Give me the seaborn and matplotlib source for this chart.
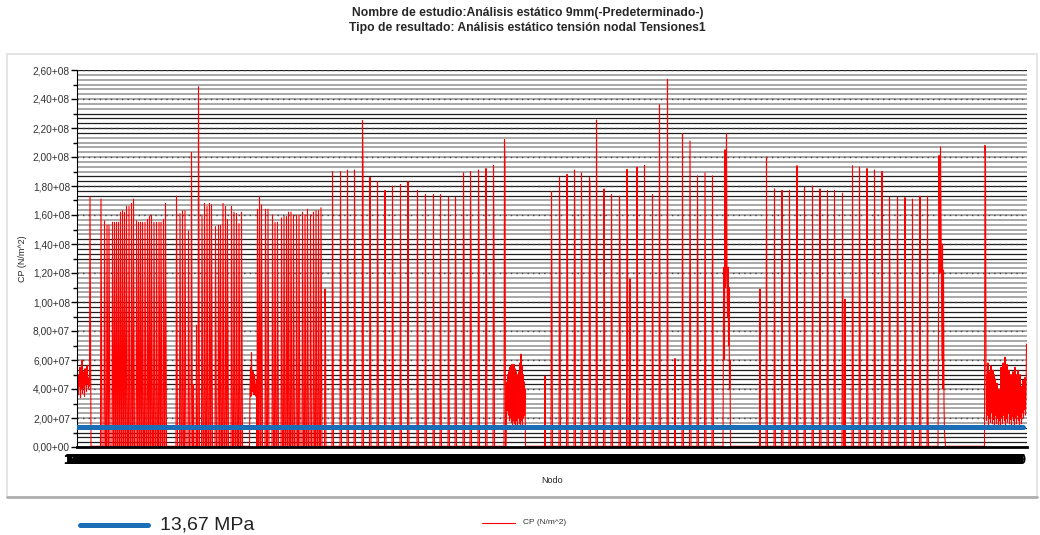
import numpy as np
import pandas as pd
import matplotlib
matplotlib.use("Agg")
import matplotlib.pyplot as plt
import seaborn as sns
from matplotlib.lines import Line2D
from matplotlib.patches import Rectangle
from matplotlib.ticker import FuncFormatter, MultipleLocator

# ---- data (stress in MPa, node index) ----
n_nodes = 1900
base_level = 0.5
limit_mpa = 13.67

spike_node = [26, 48, 55, 60, 64, 71, 75, 79, 83, 87, 91, 95, 99, 104, 109, 113, 119, 123, 127, 131,
              136, 141, 145, 149, 154, 159, 164, 168, 173, 177,
              199, 206, 211, 216, 223, 229, 233, 239, 243, 250, 255, 260, 265, 269, 277, 283, 287, 292,
              297, 301, 309, 314, 319, 324, 329,
              361, 365, 369, 377, 382, 391, 396, 401, 409, 414, 419, 423, 428, 433, 439, 444, 451, 456,
              461, 467, 473, 478, 483, 488,
              496, 511, 527, 541, 555, 571, 586, 601, 616, 631, 647, 662, 681, 697, 713, 727, 743, 757,
              773, 787, 803, 818, 833, 855,
              936, 949, 965, 980, 995, 1009, 1025, 1039, 1054, 1069, 1085, 1100, 1106, 1120, 1135, 1151,
              1165, 1181, 1196, 1211, 1226, 1241, 1256, 1271,
              1366, 1379, 1395, 1410, 1425, 1440, 1455, 1471, 1486, 1501, 1515, 1531, 1536, 1551, 1565,
              1580, 1595, 1610, 1625, 1641, 1656, 1671, 1686, 1701, 1816]
spike_peak = [172.6, 171, 156, 153, 153, 155, 155, 155, 155, 162, 163, 162, 166, 166, 168, 171, 156, 155, 155, 155,
              155, 157, 159, 160, 155, 155, 155, 155, 157, 168,
              173, 161, 163, 163, 149, 203, 43, 84, 248.5, 160, 168, 166, 168, 167, 152, 153, 153, 168,
              166, 157, 166, 162, 161, 154, 162,
              164, 172.6, 167, 164, 164, 160, 155, 155, 158, 159, 159, 162, 162, 160, 160, 160, 162, 160,
              164, 160, 162, 163, 163, 165,
              109, 190, 190, 191, 191, 225, 186, 183, 177, 180, 181, 183, 177, 174, 174, 174, 172, 172,
              189, 190, 191, 192, 194, 212,
              49, 176, 186, 188, 191, 189, 186, 225.5, 178, 174, 173, 191.5, 116, 193, 194, 174,
              236, 253.6, 61, 216, 211, 187, 189, 187,
              109, 200, 178, 177, 177, 194, 179, 180, 178, 177, 177, 175, 102, 194, 193,
              192, 191, 190, 172, 172, 172, 171, 173, 173, 208]
spike_second = [86, 80, 80, 78, 78, 80, 80, 79, 79, 82, 82, 82, 80, 80, 80, 80, 80, 80, 80, 80,
                80, 80, 82, 82, 80, 80, 80, 80, 80, 80,
                82, 82, 82, 82, 80, 80, 0, 0, 124, 82, 82, 82, 82, 82, 80, 80, 80, 80,
                80, 80, 80, 80, 80, 80, 80,
                82, 82, 82, 82, 82, 80, 78, 78, 78, 78, 78, 80, 80, 80, 80, 80, 82, 80,
                80, 80, 80, 80, 80, 82,
                83, 95, 95, 114, 113, 192, 114, 113, 104, 104, 44, 42, 48, 46, 44, 42, 38, 96,
                137, 138, 139, 139, 141, 193,
                0, 103, 135, 138, 140, 114, 180, 134, 109, 108, 142, 157, 0, 117, 116, 70,
                90, 46, 0, 57, 105, 93, 97, 103,
                0, 44, 42, 41, 68, 49, 39, 41, 42, 97, 96, 95, 0, 97, 112,
                111, 110, 110, 102, 100, 100, 49, 50, 25, 199]

noise_start = [0, 346, 859, 1293, 1723, 1818]
noise_values = [
    [45, 38, 50, 36, 48, 42, 55, 34, 47, 40, 60, 37, 52, 41, 46, 35, 54, 43, 49, 38, 56, 44, 48, 40, 45, 42],
    [40, 55, 35, 65, 45, 38, 52, 48, 36, 50, 44, 40, 35, 46],
    [20, 45, 25, 50, 22, 52, 18, 55, 20, 56, 17, 57, 15, 55, 18, 57, 16, 54, 14, 52, 18, 50, 15, 48,
     20, 52, 16, 58, 14, 64, 18, 56, 15, 50, 20, 45, 22, 40],
    [100, 124, 60, 205, 110, 130, 216, 118, 90, 124, 70, 110, 40, 60],
    [90, 201, 150, 120, 207, 160, 122, 60, 140, 40, 122, 30, 10, 5],
    [55, 18, 50, 22, 58, 15, 52, 20, 48, 17, 56, 24, 45, 16, 53, 19, 50, 14, 47, 22, 38, 16, 44, 20,
     35, 15, 40, 18, 30, 14, 55, 20, 52, 16, 58, 22, 50, 18, 62, 15, 54, 20, 57, 17, 49, 23, 53, 16,
     46, 19, 50, 15, 44, 21, 52, 18, 48, 14, 55, 20, 50, 16, 47, 22, 53, 18, 45, 15, 50, 20, 42, 16,
     38, 24, 46, 20, 40, 26, 48, 22, 35, 71],
]

y_ticks = np.arange(0, 2.6e8 + 1, 2e7)

# ---- build the series ----
vals = np.full(n_nodes, base_level)
for n, p, s in zip(spike_node, spike_peak, spike_second):
    vals[n] = p
    if s > 0 and n + 1 < n_nodes:
        vals[n + 1] = s
for start, arr in zip(noise_start, noise_values):
    vals[start:start + len(arr)] = arr
df = pd.DataFrame({"Nodo": np.arange(n_nodes), "CP": vals * 1e6})

# ---- figure ----
sns.set_style("white")
plt.rcParams["font.family"] = ["Liberation Sans", "DejaVu Sans"]

fig = plt.figure(figsize=(10.4, 5.35), dpi=100)
ax = fig.add_axes([77 / 1040, 88 / 535, 950 / 1040, 377 / 535])

# dense horizontal lines of the original background
step = 2.6e8 / 78
for i, y in enumerate(np.arange(0, 2.6e8 + 1, step)):
    dark = (i % 13) < 5
    ax.axhline(y, color="#202020" if dark else "#a8a8a8", lw=0.9 if dark else 1.4, zorder=0.5)
for y in y_ticks[1:]:
    ax.axhline(y, color="#444444", lw=1.0, ls=(0, (1, 3)), zorder=0.6)

sns.lineplot(data=df, x="Nodo", y="CP", color="#ff0000", lw=0.8, estimator=None,
             sort=False, ax=ax, zorder=2)
ax.axhline(limit_mpa * 1e6, xmax=0.996, color="#1b6eb5", lw=3.6, zorder=3)

ax.set_xlim(0, n_nodes)
ax.set_ylim(0, 2.6e8)


def fmt(v, pos=None):
    if v == 0:
        return "0,00+00"
    e = int(np.floor(np.log10(v)))
    m = v / 10 ** e
    return f"{m:.2f}".replace(".", ",") + f"+{e:02d}"


ax.set_yticks(y_ticks)
ax.yaxis.set_major_formatter(FuncFormatter(fmt))
ax.yaxis.set_minor_locator(MultipleLocator(1e7))
ax.tick_params(axis="y", which="major", length=4, width=1, color="black", labelsize=7.3,
               labelcolor="#333333", pad=1, left=True)
ax.tick_params(axis="y", which="minor", length=3, width=1, color="black", left=True)

# dense node labels form the black band under the axis
xt = np.arange(1, n_nodes, 2)
ax.set_xticks(xt)
ax.set_xticklabels([str(v + 10) for v in xt], fontsize=10, fontweight="bold", ha="right")
ax.tick_params(axis="x", length=0, pad=4, labelcolor="black")

ax.set_xlabel("Nodo", fontsize=6.5, labelpad=7)
ax.set_ylabel("CP (N/m^2)", fontsize=6.5, labelpad=4)
for side in ["top", "right"]:
    ax.spines[side].set_visible(False)
ax.spines["left"].set_color("black")
ax.spines["bottom"].set_color("black")
ax.spines["bottom"].set_linewidth(2)

fig.suptitle("Nombre de estudio:Análisis estático 9mm(-Predeterminado-)\n"
             "Tipo de resultado: Análisis estático tensión nodal Tensiones1",
             x=0.507, y=0.986, fontsize=8.7, fontweight="bold", linespacing=1.3)

# panel border
fig.add_artist(Rectangle((7 / 1040, 38 / 535), 1030 / 1040, 443 / 535, transform=fig.transFigure,
                         fill=False, ec="#e0e0e0", lw=1.2))
fig.add_artist(Line2D([7 / 1040, 1037 / 1040], [38 / 535, 38 / 535], transform=fig.transFigure,
                      color="#b0b0b0", lw=2))

# legend
fig.add_artist(Line2D([80 / 1040, 148 / 1040], [10 / 535, 10 / 535], transform=fig.transFigure,
                      color="#1b6eb5", lw=3.6))
fig.text(160 / 1040, 10 / 535, "13,67 MPa", fontsize=14, va="center", ha="left", color="#222222")
fig.add_artist(Line2D([482 / 1040, 515 / 1040], [12 / 535, 12 / 535], transform=fig.transFigure,
                      color="#ff0000", lw=0.8))
fig.text(523 / 1040, 12 / 535, "CP (N/m^2)", fontsize=6, va="center", ha="left", color="#333333")

fig.savefig("out.png", dpi=100)
